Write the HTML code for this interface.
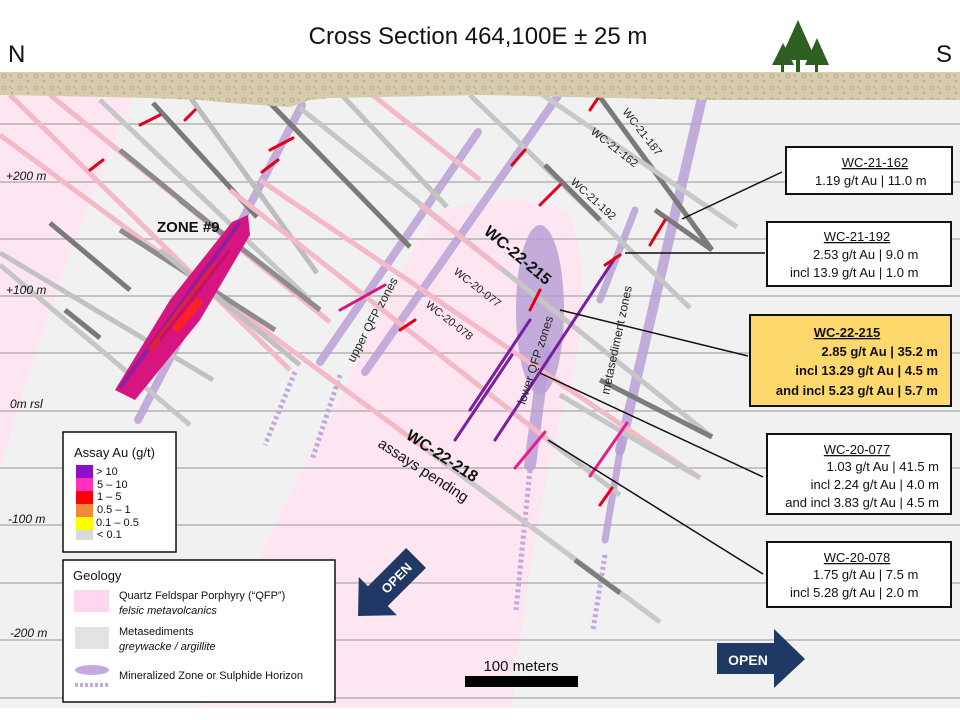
<!DOCTYPE html>
<html><head><meta charset="utf-8"><style>
html,body{margin:0;padding:0;background:#fff;}
svg{display:block;font-family:"Liberation Sans",sans-serif;}
</style></head><body>
<svg width="960" height="720" viewBox="0 0 960 720" xmlns="http://www.w3.org/2000/svg">
<defs>
<pattern id="gr" width="16" height="12" patternUnits="userSpaceOnUse">
<rect width="16" height="12" fill="#d8ccaf"/>
<circle cx="4" cy="4" r="2" fill="none" stroke="#b3a37d" stroke-width="0.8"/>
<circle cx="12" cy="9" r="1" fill="#b3a37d"/>
<line x1="9" y1="2" x2="12" y2="5" stroke="#b3a37d" stroke-width="0.8"/>
</pattern>
</defs>
<rect width="960" height="720" fill="#fff"/>
<rect x="0" y="90" width="960" height="618" fill="#f1f1f1"/>
<path d="M0,95 L135,95 Q60,260 0,470 Z" fill="#fde6f1"/>
<path d="M440,212 Q520,185 570,215 Q600,300 560,420 Q530,540 512,708 L200,708 Q260,540 340,400 Q395,270 440,212 Z" fill="#fde6f1"/>
<g stroke="#a8a8a8" stroke-width="1.2">
<line x1="0" y1="124" x2="960" y2="124"/><line x1="0" y1="182" x2="960" y2="182"/>
<line x1="0" y1="239" x2="960" y2="239"/><line x1="0" y1="296" x2="960" y2="296"/>
<line x1="0" y1="353" x2="960" y2="353"/><line x1="0" y1="411" x2="960" y2="411"/>
<line x1="0" y1="468" x2="960" y2="468"/><line x1="0" y1="525" x2="960" y2="525"/>
<line x1="0" y1="583" x2="960" y2="583"/><line x1="0" y1="640" x2="960" y2="640"/>
<line x1="0" y1="698" x2="960" y2="698"/>
</g>
<g fill="none" stroke="#b9a0d6" stroke-opacity="0.85" stroke-linecap="round">
<line x1="138" y1="420" x2="302" y2="105" stroke-width="8"/>
<line x1="320" y1="362" x2="478" y2="132" stroke-width="8"/>
<line x1="365" y1="372" x2="560" y2="93" stroke-width="8"/>
<line x1="620" y1="450" x2="702" y2="98" stroke-width="10"/>
<line x1="605" y1="540" x2="622" y2="440" stroke-width="7"/>
<line x1="600" y1="300" x2="635" y2="210" stroke-width="7"/>
<line x1="530" y1="465" x2="545" y2="350" stroke-width="12"/>
</g>
<ellipse cx="540" cy="310" rx="24" ry="85" fill="#b9a0d6" opacity="0.85"/>
<g fill="none" stroke="#c2a8e0" stroke-dasharray="3,3" stroke-width="5">
<line x1="295" y1="372" x2="265" y2="445"/>
<line x1="340" y1="375" x2="312" y2="460"/>
<line x1="530" y1="470" x2="516" y2="610"/>
<line x1="605" y1="555" x2="593" y2="630"/>
</g>
<g fill="none" stroke-width="5" stroke-linecap="butt">
<line x1="0" y1="135" x2="660" y2="622" stroke="#f4b9c6"/>
<line x1="430" y1="452" x2="660" y2="622" stroke="#c9c9c9"/>
<line x1="575" y1="560" x2="620" y2="593" stroke="#7d7d7d"/>
<line x1="10" y1="95" x2="290" y2="370" stroke="#f4b9c6"/>
<line x1="50" y1="95" x2="330" y2="322" stroke="#f4b9c6"/>
<line x1="120" y1="150" x2="230" y2="240" stroke="#8a8a8a"/>
<line x1="100" y1="100" x2="310" y2="300" stroke="#c6c6c6"/>
<line x1="153" y1="103" x2="257" y2="217" stroke="#7a7a7a"/>
<line x1="187" y1="93" x2="317" y2="273" stroke="#bdbdbd"/>
<line x1="267" y1="100" x2="410" y2="247" stroke="#7a7a7a"/>
<line x1="337" y1="90" x2="447" y2="207" stroke="#c2c2c2"/>
<line x1="370" y1="93" x2="480" y2="180" stroke="#f4b9c6"/>
<line x1="0" y1="253" x2="213" y2="380" stroke="#c2c2c2"/>
<line x1="50" y1="223" x2="130" y2="290" stroke="#7a7a7a"/>
<line x1="0" y1="265" x2="190" y2="425" stroke="#c6c6c6"/>
<line x1="65" y1="310" x2="100" y2="338" stroke="#7a7a7a"/>
<line x1="120" y1="230" x2="275" y2="330" stroke="#8d8d8d"/>
<line x1="160" y1="250" x2="300" y2="365" stroke="#c0c0c0"/>
<line x1="180" y1="200" x2="320" y2="310" stroke="#8d8d8d"/>
<line x1="300" y1="108" x2="712" y2="437" stroke="#c6c6c6"/>
<line x1="420" y1="205" x2="500" y2="268" stroke="#f4b9c6"/>
<line x1="600" y1="380" x2="712" y2="437" stroke="#7d7d7d"/>
<line x1="260" y1="180" x2="700" y2="478" stroke="#f4b9c6"/>
<line x1="560" y1="395" x2="700" y2="478" stroke="#c6c6c6"/>
<line x1="230" y1="190" x2="548" y2="440" stroke="#f4b9c6"/>
<line x1="548" y1="440" x2="620" y2="495" stroke="#c6c6c6"/>
<line x1="597" y1="93" x2="712" y2="250" stroke="#7a7a7a"/>
<line x1="540" y1="93" x2="737" y2="227" stroke="#c9c9c9"/>
<line x1="470" y1="95" x2="690" y2="308" stroke="#c6c6c6"/>
<line x1="545" y1="165" x2="600" y2="220" stroke="#7a7a7a"/>
<line x1="655" y1="210" x2="712" y2="250" stroke="#7a7a7a"/>
</g>
<!-- Zone 9 cluster -->
<path d="M115,390 L135,400 L200,320 L250,235 L248,215 L232,222 L170,300 Z" fill="#d6157f"/>
<path d="M120,388 L240,222" stroke="#8e1fa0" stroke-width="4"/>
<path d="M150,350 L215,265" stroke="#e0203a" stroke-width="6"/>
<path d="M160,340 L230,250" stroke="#c01070" stroke-width="3"/>
<path d="M175,330 L200,300" stroke="#ff2020" stroke-width="8"/>
<g stroke-width="3" stroke-linecap="round">
<line x1="530" y1="320" x2="470" y2="410" stroke="#7b1fa2"/>
<line x1="615" y1="258" x2="495" y2="440" stroke="#7b1fa2"/>
<line x1="512" y1="355" x2="455" y2="440" stroke="#7b1fa2"/>
<line x1="385" y1="285" x2="340" y2="310" stroke="#d6157f"/>
<line x1="545" y1="432" x2="515" y2="468" stroke="#e91e8c"/>
<line x1="627" y1="423" x2="590" y2="476" stroke="#e91e8c"/>
<line x1="612" y1="488" x2="600" y2="505" stroke="#e2001a"/>
<line x1="665" y1="220" x2="650" y2="245" stroke="#e2001a"/>
<line x1="620" y1="255" x2="605" y2="265" stroke="#e2001a"/>
<line x1="540" y1="290" x2="530" y2="310" stroke="#e2001a"/>
<line x1="278" y1="160" x2="262" y2="172" stroke="#e2001a"/>
<line x1="160" y1="115" x2="140" y2="125" stroke="#e2001a"/>
<line x1="195" y1="110" x2="185" y2="120" stroke="#e2001a"/>
<line x1="560" y1="185" x2="540" y2="205" stroke="#e2001a"/>
<line x1="525" y1="150" x2="512" y2="165" stroke="#e2001a"/>
<line x1="415" y1="320" x2="400" y2="330" stroke="#e2001a"/>
<line x1="600" y1="95" x2="590" y2="110" stroke="#e2001a"/>
<line x1="103" y1="160" x2="90" y2="170" stroke="#e2001a"/>
<line x1="293" y1="138" x2="270" y2="150" stroke="#e2001a"/>
</g>
<path d="M0,72 L960,72 L960,100 L700,100 L480,95 L330,98 L310,100 L290,107 L230,103 L200,100 L150,98 L0,95 Z" fill="url(#gr)"/>
<g fill="#2e5e22">
<polygon points="798,20 780,60 816,60"/><rect x="796" y="60" width="4" height="12"/>
<polygon points="783,43 772,65 794,65"/><rect x="781" y="64" width="3" height="8"/>
<polygon points="817,38 805,65 829,65"/><rect x="815" y="64" width="3" height="8"/>
</g>
<text x="478" y="44" font-size="24" text-anchor="middle" fill="#111">Cross Section 464,100E ± 25 m</text>
<text x="8" y="62" font-size="24" fill="#111">N</text>
<text x="936" y="62" font-size="24" fill="#111">S</text>
<g font-size="12" font-style="italic" fill="#111">
<text x="6" y="180">+200 m</text><text x="6" y="294">+100 m</text>
<text x="10" y="408">0m rsl</text><text x="8" y="523">-100 m</text><text x="10" y="637">-200 m</text>
</g>
<text x="157" y="232" font-size="15" font-weight="bold" fill="#111">ZONE #9</text>
<g font-size="11" fill="#222">
<text transform="translate(622,112) rotate(52)">WC-21-187</text>
<text transform="translate(590,133) rotate(38)">WC-21-162</text>
<text transform="translate(570,183) rotate(42)">WC-21-192</text>
<text transform="translate(453,273) rotate(38)">WC-20-077</text>
<text transform="translate(425,306) rotate(38)">WC-20-078</text>
<text transform="translate(354,363) rotate(-62)" font-size="12">upper QFP zones</text>
<text transform="translate(525,405) rotate(-72)" font-size="12">lower QFP zones</text>
<text transform="translate(609,395) rotate(-78)" font-size="12">metasediment zones</text>
</g>
<text transform="translate(483,233) rotate(40)" font-size="16" font-weight="bold" fill="#111">WC-22-215</text>
<text transform="translate(405,438) rotate(33)" font-size="16" font-weight="bold" fill="#111">WC-22-218</text>
<text transform="translate(377,446) rotate(33)" font-size="15" fill="#111">assays pending</text>
<g stroke="#111" stroke-width="1.5">
<line x1="782" y1="172" x2="682" y2="219"/>
<line x1="765" y1="253" x2="625" y2="253"/>
<line x1="748" y1="356" x2="560" y2="310"/>
<line x1="763" y1="477" x2="540" y2="373"/>
<line x1="763" y1="574" x2="548" y2="440"/>
</g>
<g font-size="13" fill="#111">
<rect x="786" y="147" width="166" height="47" fill="#fff" stroke="#111" stroke-width="2"/>
<text x="875" y="167" text-anchor="middle" text-decoration="underline">WC-21-162</text>
<text x="815" y="185">1.19 g/t Au | 11.0 m</text>
<rect x="767" y="222" width="184" height="64" fill="#fff" stroke="#111" stroke-width="2"/>
<text x="857" y="241" text-anchor="middle" text-decoration="underline">WC-21-192</text>
<text x="813" y="259">2.53 g/t Au | 9.0 m</text>
<text x="790" y="277">incl 13.9 g/t Au | 1.0 m</text>
<rect x="750" y="315" width="201" height="91" fill="#fdd86d" stroke="#111" stroke-width="2"/>
<g font-weight="bold">
<text x="847" y="337" text-anchor="middle" text-decoration="underline">WC-22-215</text>
<text x="938" y="356" text-anchor="end">2.85 g/t Au | 35.2 m</text>
<text x="938" y="375" text-anchor="end">incl 13.29 g/t Au | 4.5 m</text>
<text x="938" y="395" text-anchor="end">and incl 5.23 g/t Au | 5.7 m</text>
</g>
<rect x="767" y="434" width="184" height="80" fill="#fff" stroke="#111" stroke-width="2"/>
<text x="857" y="454" text-anchor="middle" text-decoration="underline">WC-20-077</text>
<text x="939" y="471" text-anchor="end">1.03 g/t Au | 41.5 m</text>
<text x="939" y="489" text-anchor="end">incl 2.24 g/t Au | 4.0 m</text>
<text x="939" y="507" text-anchor="end">and incl 3.83 g/t Au | 4.5 m</text>
<rect x="767" y="542" width="184" height="65" fill="#fff" stroke="#111" stroke-width="2"/>
<text x="857" y="562" text-anchor="middle" text-decoration="underline">WC-20-078</text>
<text x="813" y="579">1.75 g/t Au | 7.5 m</text>
<text x="790" y="597">incl 5.28 g/t Au | 2.0 m</text>
</g>
<rect x="63" y="432" width="113" height="120" fill="#fff" stroke="#111" stroke-width="1.5"/>
<text x="74" y="457" font-size="13" fill="#111">Assay Au (g/t)</text>
<rect x="76" y="465" width="17" height="13" fill="#8e0fc8"/>
<rect x="76" y="478" width="17" height="13" fill="#ff2fbf"/>
<rect x="76" y="491" width="17" height="13" fill="#ff0000"/>
<rect x="76" y="504" width="17" height="13" fill="#f08a3a"/>
<rect x="76" y="517" width="17" height="13" fill="#ffff00"/>
<rect x="76" y="530" width="17" height="10" fill="#d9d9d9"/>
<g font-size="11" fill="#111">
<text x="96" y="475">&gt; 10</text><text x="97" y="488">5 – 10</text><text x="97" y="500">1 – 5</text>
<text x="97" y="513">0.5 – 1</text><text x="96" y="526">0.1 – 0.5</text><text x="97" y="538">&lt; 0.1</text>
</g>
<rect x="63" y="560" width="272" height="142" fill="#fff" stroke="#111" stroke-width="1.5"/>
<text x="73" y="580" font-size="13" fill="#111">Geology</text>
<rect x="74" y="590" width="35" height="22" fill="#fdd7ef"/>
<rect x="75" y="627" width="34" height="22" fill="#e3e3e3"/>
<ellipse cx="92" cy="670" rx="17" ry="5" fill="#c4a9e0"/>
<line x1="75" y1="685" x2="110" y2="685" stroke="#c4a9e0" stroke-width="4" stroke-dasharray="3,2"/>
<g font-size="11" fill="#111">
<text x="119" y="599">Quartz Feldspar Porphyry (“QFP”)</text>
<text x="119" y="614" font-style="italic">felsic metavolcanics</text>
<text x="119" y="635">Metasediments</text>
<text x="119" y="650" font-style="italic">greywacke / argillite</text>
<text x="119" y="679">Mineralized Zone or Sulphide Horizon</text>
</g>
<g transform="translate(392,582) rotate(-45)">
<polygon points="-20,-14 34,-14 34,14 -20,14 -20,27 -48,0 -20,-27" fill="#1f3864"/>
<text x="6" y="5" font-size="13" font-weight="bold" fill="#fff" text-anchor="middle">OPEN</text>
</g>
<polygon points="717,643 774,643 774,629 805,659 774,688 774,674 717,674" fill="#1f3864"/>
<text x="748" y="665" font-size="14" font-weight="bold" fill="#fff" text-anchor="middle">OPEN</text>
<text x="521" y="671" font-size="15" text-anchor="middle" fill="#111">100 meters</text>
<rect x="465" y="676" width="113" height="11" fill="#000"/>
</svg>
</body></html>
